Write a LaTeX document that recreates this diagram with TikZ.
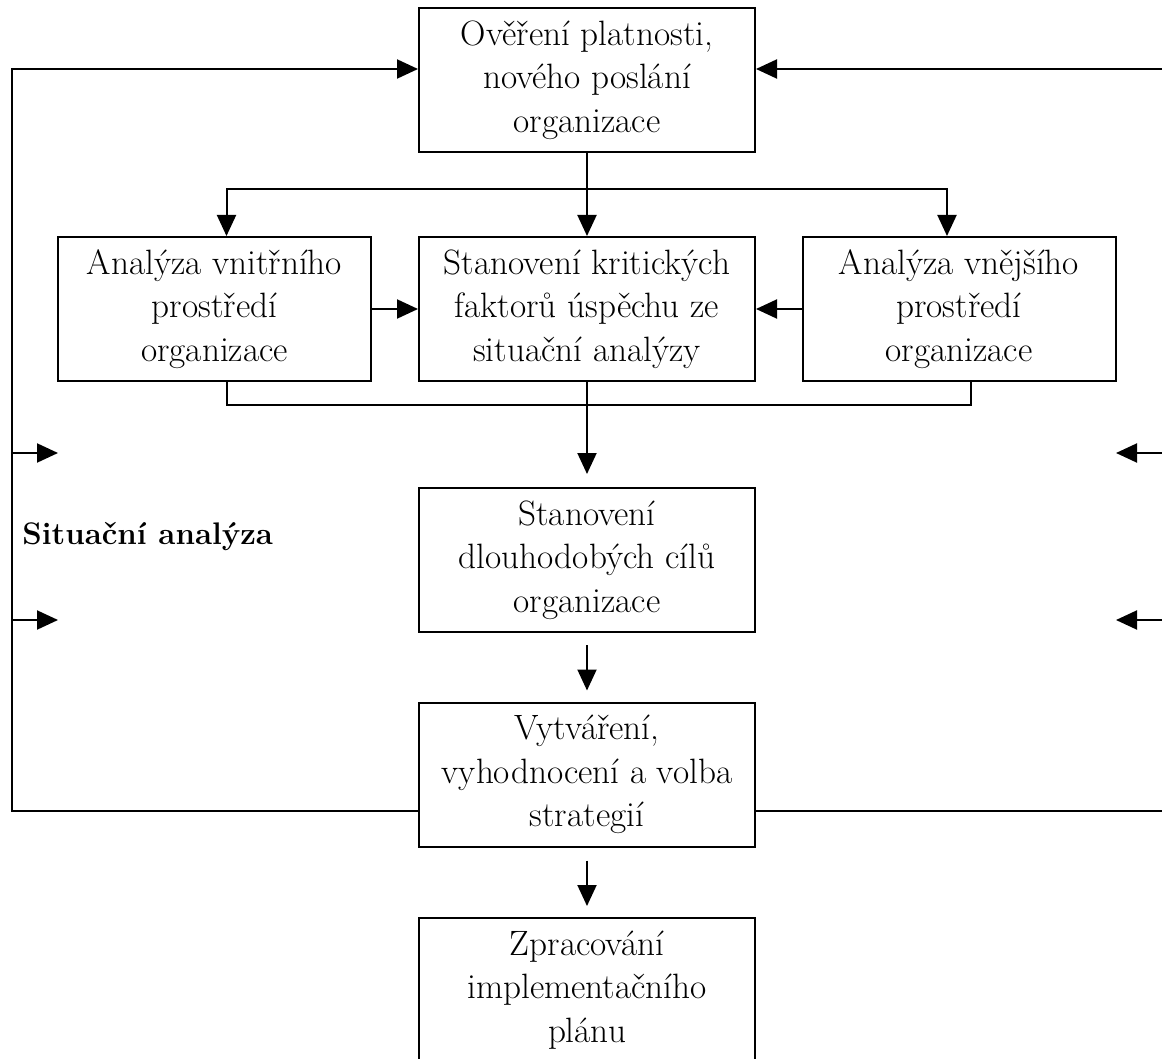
\documentclass[tikz,border=0pt]{standalone}
\usepackage{fontspec}
\usepackage{tikz}
\usetikzlibrary{arrows.meta,positioning,calc}
\tikzstyle{stepBox}=[draw,rectangle,line width=1pt,align=center,inner sep=0pt,minimum width=168pt,minimum height=72pt]
\tikzstyle{sideBox}=[stepBox,minimum width=156.5pt]
\tikzstyle{flow}=[-{Triangle[length=10.5pt,width=9.5pt]},line width=1pt]
\tikzstyle{link}=[line width=1pt]

\begin{document}
\begin{tikzpicture}[x=0.5pt,y=-0.5pt,font=\fontsize{17.6}{21.8}\selectfont]
      \useasboundingbox (0,0) rectangle (1162,1059);
      \node [stepBox] (over) at (587,80) {Ověření platnosti,\\nového poslání\\organizace};
      \node [sideBox] (inner) at (214.5,309) {Analýza vnitřního\\prostředí\\organizace};
      \node [stepBox] (critical) at (587,309) {Stanovení kritických\\faktorů úspěchu ze\\situační analýzy};
      \node [sideBox] (outer) at (959,309) {Analýza vnějšího\\prostředí\\organizace};
      \node [stepBox] (goals) at (587,560) {Stanovení\\dlouhodobých cílů\\organizace};
      \node [stepBox] (strat) at (587,774.5) {Vytváření,\\vyhodnocení a volba\\strategií};
      \node [stepBox] (impl) at (587,990) {Zpracování\\implementačního\\plánu};
      \node [anchor=west,inner sep=0pt,font=\fontsize{15.6}{19}\selectfont\bfseries] (situace) at (22,537) {Situační analýza};

      \coordinate (split) at (587,189);
      \coordinate (join) at (587,405);
      \coordinate (lcorner) at (12,69);
      \coordinate (rcorner) at (1166,69);

      \draw [flow] (over) -- (critical);
      \draw [flow] (split) -| ([xshift=6pt]inner.north);
      \draw [flow] (split) -| ([xshift=-6pt]outer.north);
      \draw [flow] (inner) -- (critical);
      \draw [flow] (outer) -- (critical);
      \draw [link] ([xshift=6pt]inner.south) |- (join) -| ([xshift=6pt]outer.south);
      \draw [flow,shorten >=6.5pt] (critical) -- (goals);
      \draw [flow,shorten <=6pt,shorten >=5.5pt] (goals) -- (strat);
      \draw [flow,shorten <=6.5pt,shorten >=5.5pt] (strat) -- (impl);
      \draw [flow] ([yshift=-18pt]strat.west) -| (lcorner) -- ([yshift=5.5pt]over.west);
      \draw [flow] ([yshift=-18pt]strat.east) -| (rcorner) -- ([yshift=5.5pt]over.east);
      \foreach \y in {453,620} {
        \coordinate (lin\y) at (12,\y);
        \coordinate (lout\y) at (58,\y);
        \coordinate (rin\y) at (1166,\y);
        \coordinate (rout\y) at (1116,\y);
        \draw [flow] (lin\y) -- (lout\y);
        \draw [flow] (rin\y) -- (rout\y);
      }
    \end{tikzpicture}
\end{document}
